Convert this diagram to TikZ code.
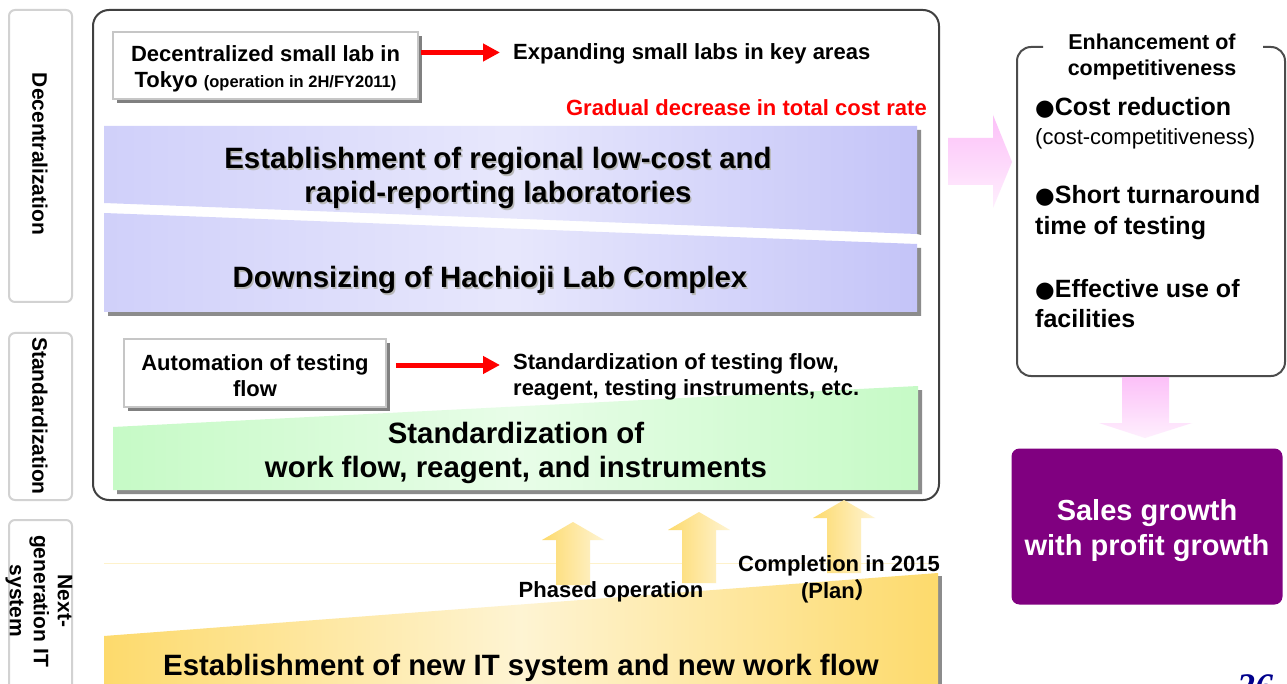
\documentclass[tikz,border=0pt]{standalone}
\usepackage{fontspec}
\setmainfont{Liberation Sans}
\newfontfamily\bulletfont{DejaVu Sans}
\newfontfamily\cjkfont{Noto Sans CJK JP}
\newfontfamily\pagefont{Liberation Serif}
\usetikzlibrary{arrows.meta, shadows}
\definecolor{lav}{RGB}{196,196,248}
\definecolor{mint}{RGB}{198,250,198}
\definecolor{gold}{RGB}{253,218,108}
\definecolor{rose}{RGB}{252,192,248}
\definecolor{plum}{RGB}{128,0,128}
\definecolor{navy}{RGB}{0,0,140}
\newcommand{\fsize}[2]{\fontsize{#1}{#2}\selectfont}
\newcommand{\blackdot}{{\bulletfont\fsize{22.5}{26}●}}

\begin{document}
\begin{tikzpicture}[x=1pt, y=-1pt,
  tab/.style={draw=gray!35, line width=2pt, rounded corners=6pt},
  tablabel/.style={font=\bfseries\fsize{21}{24}, rotate=-90, align=center, inner sep=0pt},
  mainbox/.style={draw=black!75, line width=2pt, rounded corners=16pt},
  compbox/.style={draw=black!70, line width=2pt, rounded corners=14pt},
  whitebox/.style={draw=gray!45, line width=1.5pt, fill=white,
    drop shadow={shadow xshift=4pt, shadow yshift=-4pt, fill=gray, opacity=1}},
  txt/.style={font=\bfseries\fsize{22}{26}, inner sep=0pt},
  bigtxt/.style={font=\bfseries\fsize{29.4}{34}, inner sep=0pt, align=center},
  txtshadow/.style={text=gray!55, xshift=1.5pt, yshift=-1.5pt},
  itemtxt/.style={font=\bfseries\fsize{25}{31}, inner sep=0pt, anchor=base west},
  redarrow/.style={red, line width=5pt, -{Triangle[length=17pt, width=17pt]}},
  bandshadow/.style={fill=gray!90},
  blueband/.style={left color=lav!80!white, right color=lav, middle color=lav!40!white},
  greenband/.style={left color=mint, right color=mint, middle color=mint!40!white},
  yellowband/.style={left color=gold, right color=gold, middle color=gold!30!white},
  uparrow/.style={left color=gold, right color=gold!30!white},
  pinkarrow/.style={top color=rose, bottom color=rose!25!white},
  salesbox/.style={fill=plum, rounded corners=8pt, minimum width=271pt, minimum height=156pt},
  salestxt/.style={text=white, align=center, inner sep=0pt, font=\bfseries\fsize{29}{35}}
]
\useasboundingbox (0,0) rectangle (1287,684);
\clip (0,0) rectangle (1287,684);
\fill[white] (0,0) rectangle (1287,684);

\node[tab, minimum width=63pt, minimum height=292pt] (tabdec) at (40.5,156) {};
\node[tab, minimum width=63pt, minimum height=167pt] (tabstd) at (40.5,416.5) {};
\node[tab, minimum width=63pt, minimum height=190pt] (tabit) at (40.5,615) {};
\node[tablabel] (labdec) at (40,154) {Decentralization};
\node[tablabel] (labstd) at (40,416) {Standardization};
\node[tablabel] (labit) at (39,601) {Next-\\generation IT\\system};

\draw[mainbox] (93,10) rectangle (939,500);

\fill[bandshadow] (917,130) -- (921,130) -- (921,235) -- (917,234) -- cycle;
\shade[blueband] (104,126) -- (917,126) -- (917,234) -- (104,203) -- cycle;
\fill[bandshadow] (108,217) -- (921,248) -- (921,316) -- (108,316) -- cycle;
\shade[blueband] (104,213) -- (917,244) -- (917,312) -- (104,312) -- cycle;

\fill[bandshadow] (117,431) -- (922,390) -- (922,494) -- (117,494) -- cycle;
\shade[greenband] (113,427) -- (918,386) -- (918,490) -- (113,490) -- cycle;

\draw[gold!35, line width=1pt] (104,563) -- (938,563);
\fill[bandshadow] (938,576) -- (942,576) -- (942,700) -- (938,700) -- cycle;
\shade[yellowband] (104,636) -- (938,573) -- (938,700) -- (104,700) -- cycle;
\foreach \ax/\ay/\ab in {573/522/585, 699/512/583, 844/500/573}
  \shade[uparrow] (\ax-31,\ay+18) -- (\ax,\ay) -- (\ax+31,\ay+18) -- (\ax+17,\ay+18)
    -- (\ax+17,\ab) -- (\ax-17,\ab) -- (\ax-17,\ay+18) -- cycle;

\node[whitebox, minimum width=305pt, minimum height=67pt] (tokyo) at (265.5,65.5) {};
\node[txt, align=center] (tokyotext) at ([yshift=-3pt]tokyo.center)
  {Decentralized small lab in\\Tokyo {\fsize{16.5}{26}(operation in 2H/FY2011)}};
\node[txt, anchor=west] (expand) at (513,54) {Expanding small labs in key areas};
\draw[redarrow, shorten <=2pt, shorten >=13pt] ([yshift=1.5pt]tokyo.east |- expand.west) -- ([yshift=1.5pt]expand.west);
\node[txt, text=red, anchor=east] (gradual) at (927,108) {Gradual decrease in total cost rate};

\node[bigtxt, txtshadow] (regionalsh) at (498,178) {Establishment of regional low-cost and\\rapid-reporting laboratories};
\node[bigtxt] (regional) at (498,178) {Establishment of regional low-cost and\\rapid-reporting laboratories};
\node[bigtxt, txtshadow] (hachiojish) at (490,280) {Downsizing of Hachioji Lab Complex};
\node[bigtxt] (hachioji) at (490,280) {Downsizing of Hachioji Lab Complex};

\node[whitebox, minimum width=262pt, minimum height=68pt] (auto) at (255,373) {};
\node[txt, align=center] (autotext) at ([yshift=-2.5pt]auto.center) {Automation of testing\\flow};
\node[txt, anchor=west, align=left] (stdflow) at (513,377) {Standardization of testing flow,\\reagent, testing instruments, etc.};
\draw[redarrow, shorten <=9pt, shorten >=13pt] ([yshift=12pt]auto.east |- stdflow.west) -- ([yshift=12pt]stdflow.west);
\node[bigtxt] (workflow) at (516,452.5) {Standardization of\\work flow, reagent, and instruments};

\node[txt] (phased) at (611,592) {Phased operation};
\node[txt, align=center, font=\bfseries\fsize{22}{27}] (plan) at (839,579) {Completion in 2015\\(Plan{\cjkfont ）}};
\node[bigtxt] (itsystem) at (521,668) {Establishment of new IT system and new work flow};

\shade[pinkarrow] (948,138) -- (993,138) -- (993,115) -- (1012,162) -- (993,208) -- (993,185) -- (948,185) -- cycle;
\draw[compbox] (1043,47) -- (1017,47) -- (1017,376) -- (1285,376) -- (1285,47) -- (1263,47);
\node[txt, align=center, font=\bfseries\fsize{21.5}{26}] (enhance) at (1152,57) {Enhancement of\\competitiveness};
\node[itemtxt] (cost) at (1035,116) {\blackdot Cost reduction};
\node[itemtxt, font=\fsize{22}{26}] (costnote) at (1035,145) {(cost-competitiveness)};
\node[itemtxt] (short) at (1035,204) {\blackdot Short turnaround};
\node[itemtxt] (shortb) at (1035,235) {time of testing};
\node[itemtxt] (facil) at (1035,298) {\blackdot Effective use of};
\node[itemtxt] (facilb) at (1035,328) {facilities};

\shade[pinkarrow] (1122,377) -- (1169,377) -- (1169,423) -- (1192,423) -- (1145,438) -- (1099,423) -- (1122,423) -- cycle;
\node[salesbox] (sales) at (1147,526.5) {};
\node[salestxt] (salestext) at ([yshift=-4pt]sales.center) {Sales growth\\with profit growth};

\node[anchor=base, inner sep=0pt, text=navy, font=\pagefont\bfseries\itshape\fsize{36}{40}] (page) at (1255,698) {26};
\end{tikzpicture}
\end{document}
